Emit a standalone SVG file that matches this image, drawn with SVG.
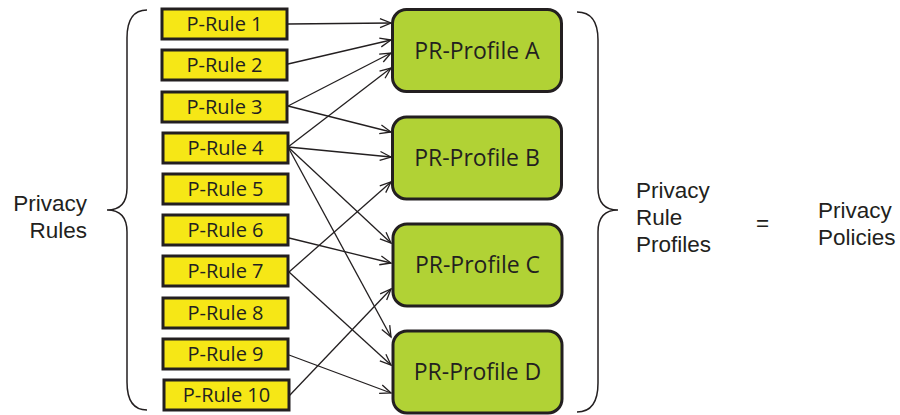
<svg xmlns="http://www.w3.org/2000/svg" width="900" height="415" viewBox="0 0 900 415">
  <defs>
    <style>
      .rule rect { fill: #f6e716; stroke: #231f20; stroke-width: 3; }
      .rule text { font-family: "Open Sans", "Liberation Sans", sans-serif; font-size: 20px; fill: #231f20; text-anchor: middle; }
      .profile rect { fill: #b1d235; stroke: #231f20; stroke-width: 3; }
      .profile text { font-family: "Open Sans", "Liberation Sans", sans-serif; font-size: 23px; fill: #231f20; text-anchor: middle; }
      .edge { fill: none; stroke: #231f20; stroke-width: 1.3; marker-end: url(#arrow); }
      .brace { fill: none; stroke: #231f20; stroke-width: 1.5; }
      .label { font-family: "Liberation Sans", Arial, sans-serif; font-size: 22.5px; fill: #231f20; }
    </style>
    <marker id="arrow" markerUnits="userSpaceOnUse" markerWidth="14" markerHeight="12" refX="12" refY="6" orient="auto">
      <path d="M1,1.5 L12,6 L1,10.5" fill="none" stroke="#231f20" stroke-width="1.3"/>
    </marker>
  </defs>

  <!-- braces -->
  <path class="brace" d="M147,10 C134,10 127,18 127,38 L127,188 C127,203 120,210 107,210 C120,210 127,217 127,232 L127,382 C127,402 134,410 147,410"/>
  <path class="brace" d="M577,12 C590,12 598,20 598,40 L598,188 C598,203 605,210 618,210 C605,210 598,217 598,232 L598,383 C598,403 590,412 577,412"/>

  <!-- connectors -->
  <g id="connectors">
    <path class="edge" d="M288,24 L391,23"/>
    <path class="edge" d="M288,64 L391,40"/>
    <path class="edge" d="M288,106 L391,53"/>
    <path class="edge" d="M288,147 L391,68"/>
    <path class="edge" d="M288,106 L391,132"/>
    <path class="edge" d="M288,147 L391,157"/>
    <path class="edge" d="M289,272 L391,182"/>
    <path class="edge" d="M288,147 L391,243"/>
    <path class="edge" d="M289,238 L391,263"/>
    <path class="edge" d="M289,396 L391,289"/>
    <path class="edge" d="M288,147 L391,337"/>
    <path class="edge" d="M289,272 L391,365"/>
    <path class="edge" d="M289,355 L391,393"/>
  </g>

  <!-- privacy rules -->
  <g id="rule1" class="rule"><rect x="162" y="9" width="125" height="30"/><text x="224.5" y="31">P-Rule 1</text></g>
  <g id="rule2" class="rule"><rect x="162" y="50" width="125" height="30"/><text x="224.5" y="72">P-Rule 2</text></g>
  <g id="rule3" class="rule"><rect x="162" y="92" width="125" height="30"/><text x="224.5" y="114">P-Rule 3</text></g>
  <g id="rule4" class="rule"><rect x="163" y="133" width="125" height="30"/><text x="225.5" y="155">P-Rule 4</text></g>
  <g id="rule5" class="rule"><rect x="163" y="174" width="125" height="30"/><text x="225.5" y="196">P-Rule 5</text></g>
  <g id="rule6" class="rule"><rect x="163" y="215" width="125" height="30"/><text x="225.5" y="237">P-Rule 6</text></g>
  <g id="rule7" class="rule"><rect x="163" y="256" width="125" height="30"/><text x="225.5" y="278">P-Rule 7</text></g>
  <g id="rule8" class="rule"><rect x="163" y="298" width="125" height="30"/><text x="225.5" y="320">P-Rule 8</text></g>
  <g id="rule9" class="rule"><rect x="163" y="339" width="125" height="30"/><text x="225.5" y="361">P-Rule 9</text></g>
  <g id="rule10" class="rule"><rect x="164" y="380" width="125" height="30"/><text x="226.5" y="402">P-Rule 10</text></g>

  <!-- privacy rule profiles -->
  <g id="profileA" class="profile"><rect x="392.5" y="9.5" width="169" height="82" rx="14"/><text x="477" y="59">PR-Profile A</text></g>
  <g id="profileB" class="profile"><rect x="392.5" y="117" width="169" height="82" rx="14"/><text x="477" y="166">PR-Profile B</text></g>
  <g id="profileC" class="profile"><rect x="393" y="224" width="169" height="82" rx="14"/><text x="477.5" y="273">PR-Profile C</text></g>
  <g id="profileD" class="profile"><rect x="393" y="331" width="169" height="82" rx="14"/><text x="477.5" y="380">PR-Profile D</text></g>

  <!-- side labels -->
  <g id="label-rules">
    <text class="label" x="87" y="211" text-anchor="end">Privacy</text>
    <text class="label" x="87" y="238" text-anchor="end">Rules</text>
  </g>
  <g id="label-profiles">
    <text class="label" x="636" y="198">Privacy</text>
    <text class="label" x="636" y="225">Rule</text>
    <text class="label" x="636" y="252">Profiles</text>
  </g>
  <text class="label" x="762.5" y="231" text-anchor="middle">=</text>
  <g id="label-policies">
    <text class="label" x="818" y="218">Privacy</text>
    <text class="label" x="818" y="245">Policies</text>
  </g>
</svg>
